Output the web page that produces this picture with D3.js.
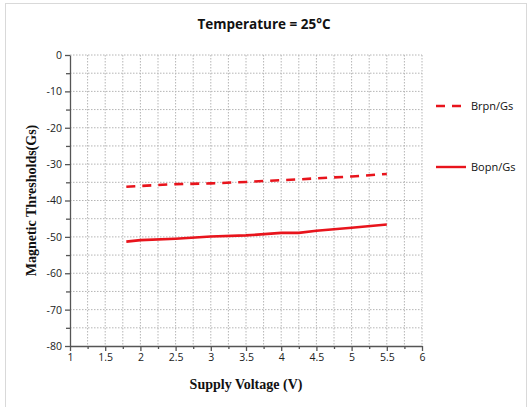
<!DOCTYPE html>
<html>
<head>
<meta charset="utf-8">
<script src="https://cdn.jsdelivr.net/npm/d3@7"></script>
<style>
  body { margin: 0; background: #fff; }
  svg { display: block; }
</style>
</head>
<body>
<div id="chart"></div>
<script>
'use strict';

// data
const voltage = [1.8, 2, 2.5, 3, 3.5, 4, 4.25, 4.5, 5, 5.5];
const brpn = [-36.2, -36, -35.5, -35.3, -34.9, -34.4, -34.2, -33.9, -33.4, -32.7];
const bopn = [-51.3, -50.9, -50.5, -49.9, -49.6, -48.9, -48.9, -48.3, -47.5, -46.6];
const xTicks = [1, 1.5, 2, 2.5, 3, 3.5, 4, 4.5, 5, 5.5, 6];
const yTicks = [0, -10, -20, -30, -40, -50, -60, -70, -80];

const series = [
  {name: 'Brpn/Gs', values: brpn, dash: '9,7', legendY: 106},
  {name: 'Bopn/Gs', values: bopn, dash: null, legendY: 167}
];

const W = 529, H = 407;
const margin = {top: 55, left: 70, right: 107, bottom: 61};
const width = W - margin.left - margin.right,
      height = H - margin.top - margin.bottom;

const svg = d3.select('#chart').append('svg')
    .attr('width', W)
    .attr('height', H);

// light frame round the chart
svg.append('rect')
    .attr('x', 5.5).attr('y', 3.5)
    .attr('width', W - 8).attr('height', H - 3)
    .attr('fill', 'none')
    .attr('stroke', '#d9d9d9');

const g = svg.append('g')
    .attr('transform', 'translate(' + margin.left + ',' + margin.top + ')');

const x = d3.scaleLinear().domain([1, 6]).range([0, width]);
const y = d3.scaleLinear().domain([-80, 0]).range([height, 0]);

// dotted grid: every 0.25 V, every 5 Gs
g.append('g')
    .selectAll('line')
    .data(d3.range(1.25, 6.01, 0.25))
    .enter().append('line')
    .attr('x1', d => x(d)).attr('x2', d => x(d))
    .attr('y1', 0).attr('y2', height)
    .attr('stroke', '#b5b5b5')
    .attr('stroke-width', 1)
    .attr('stroke-dasharray', '1.5,1.5');

g.append('g')
    .selectAll('line')
    .data(d3.range(-75, 0.01, 5))
    .enter().append('line')
    .attr('x1', 0).attr('x2', width)
    .attr('y1', d => y(d)).attr('y2', d => y(d))
    .attr('stroke', '#b5b5b5')
    .attr('stroke-width', 1)
    .attr('stroke-dasharray', '1.5,1.5');

// axes (plain number labels, hyphen minus like the original)
const plain = d => String(d);

const xMinor = g.append('g')
    .attr('transform', 'translate(0,' + height + ')')
    .call(d3.axisBottom(x).tickValues(d3.range(1.25, 6, 0.5)).tickSize(3).tickFormat(''));
const xAxis = g.append('g')
    .attr('transform', 'translate(0,' + height + ')')
    .call(d3.axisBottom(x).tickValues(xTicks).tickSize(5).tickSizeOuter(0)
        .tickPadding(3).tickFormat(plain));

const yMinor = g.append('g')
    .call(d3.axisLeft(y).tickValues(d3.range(-75, 0, 10)).tickSize(4).tickFormat(''));
const yAxis = g.append('g')
    .call(d3.axisLeft(y).tickValues(yTicks).tickSize(5).tickSizeOuter(0)
        .tickPadding(3).tickFormat(plain));

[xMinor, xAxis, yMinor, yAxis].forEach(a => {
  a.selectAll('path, line').attr('stroke', '#555').attr('stroke-width', 1.3);
  a.selectAll('text')
      .attr('fill', '#222')
      .style('font-family', 'Open Sans, sans-serif')
      .style('font-size', '10.5px');
});
xMinor.select('.domain').remove();
yMinor.select('.domain').remove();

// lines
const line = d3.line()
    .x((d, i) => x(voltage[i]))
    .y(d => y(d));

series.forEach(s => {
  g.append('path')
      .datum(s.values)
      .attr('d', line)
      .attr('fill', 'none')
      .attr('stroke', '#e8141c')
      .attr('stroke-width', 2.6)
      .attr('stroke-dasharray', s.dash);
});

// legend
series.forEach(s => {
  svg.append('line')
      .attr('x1', 436).attr('x2', 466)
      .attr('y1', s.legendY).attr('y2', s.legendY)
      .attr('stroke', '#e8141c')
      .attr('stroke-width', 2.4)
      .attr('stroke-dasharray', s.dash ? '9,7' : null);
  svg.append('text')
      .attr('x', 471).attr('y', s.legendY + 4)
      .style('font-family', 'Open Sans, sans-serif')
      .style('font-size', '11px')
      .attr('fill', '#111')
      .text(s.name);
});

// titles
svg.append('text')
    .attr('x', 264).attr('y', 29)
    .attr('text-anchor', 'middle')
    .style('font-family', 'Open Sans, sans-serif')
    .style('font-weight', 'bold')
    .style('font-size', '13.5px')
    .attr('fill', '#111')
    .text('Temperature = 25\u00B0C');

svg.append('text')
    .attr('x', margin.left + width / 2).attr('y', 389)
    .attr('text-anchor', 'middle')
    .style('font-family', 'Liberation Serif, serif')
    .style('font-weight', 'bold')
    .style('font-size', '14px')
    .attr('fill', '#111')
    .text('Supply Voltage (V)');

svg.append('text')
    .attr('transform', 'translate(36,' + (margin.top + height / 2) + ') rotate(-90)')
    .attr('text-anchor', 'middle')
    .style('font-family', 'Liberation Serif, serif')
    .style('font-weight', 'bold')
    .style('font-size', '14px')
    .attr('fill', '#111')
    .text('Magnetic Thresholds(Gs)');
</script>
</body>
</html>
